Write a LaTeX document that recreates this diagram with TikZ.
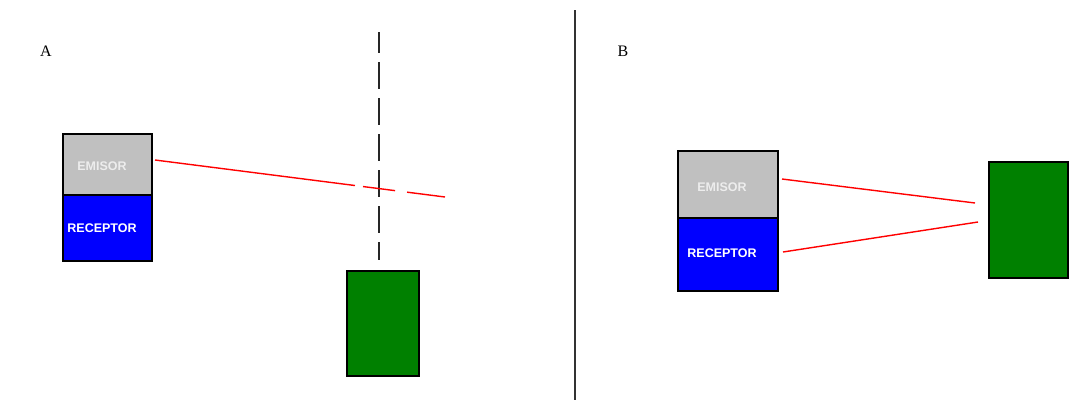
\documentclass[tikz,border=0pt]{standalone}
\usepackage{fontspec}
\setmainfont{Liberation Serif}
\newfontfamily\boxfont{Liberation Sans}
\definecolor{boxgray}{HTML}{C0C0C0}
\definecolor{boxblue}{HTML}{0000FF}
\definecolor{boxgreen}{HTML}{008000}
\definecolor{beamred}{HTML}{FF0000}
\definecolor{linegray}{HTML}{333333}
\begin{document}
\begin{tikzpicture}[x=1pt,y=-1pt,
  cell/.style={draw=black,line width=1.8pt,minimum width=#1,inner sep=0pt,anchor=north west},
  boxtext/.style={font=\boxfont\fontsize{12.5}{14}\selectfont\bfseries,inner sep=0pt},
  beam/.style={draw=beamred,line width=1.4pt},
  panellabel/.style={font=\fontsize{16}{18}\selectfont,inner sep=0pt}]
\useasboundingbox (0,0) rectangle (1092,400);
\fill[white] (0,0) rectangle (1092,400);
% divider
\coordinate (dtop) at (575,10);
\coordinate (dbot) at (575,400);
\draw[linegray,line width=1.5pt] (dtop) -- (dbot);
% labels
\node[panellabel] (labA) at (46,51) {A};
\node[panellabel] (labB) at (623,51) {B};
% ---- Panel A
\node[cell=89pt,fill=boxgray,minimum height=61pt] (emA) at (62,133) {};
\node[cell=89pt,fill=boxblue,minimum height=66pt] (reA) at (62,194) {};
\node[boxtext,text=black!7] (emAt) at (102,166) {EMISOR};
\node[boxtext,text=white] (reAt) at (102,228) {RECEPTOR};
\node[cell=72pt,fill=boxgreen,minimum height=105pt] (objA) at (346,270) {};
\coordinate (dashtop) at (379,32);
\coordinate (dashbot) at (379,260);
\draw[black!85,line width=1.8pt,dash pattern=on 27pt off 9pt,dash phase=6pt] (dashtop) -- (dashbot);
\coordinate (bAs) at (155,160);
\coordinate (bAe) at (445,197);
\draw[beam,dash pattern=on 201.6pt off 8.1pt on 32.3pt off 12.1pt on 60pt] (bAs) -- (bAe);
% ---- Panel B
\node[cell=100pt,fill=boxgray,minimum height=67pt] (emB) at (677,150) {};
\node[cell=100pt,fill=boxblue,minimum height=73pt] (reB) at (677,217) {};
\node[boxtext,text=black!7] (emBt) at (722,187) {EMISOR};
\node[boxtext,text=white] (reBt) at (722,253) {RECEPTOR};
\node[cell=79pt,fill=boxgreen,minimum height=116pt] (objB) at (988,161) {};
\coordinate (b1s) at (782,179);
\coordinate (b1e) at (975,203);
\coordinate (b2s) at (783,252);
\coordinate (b2e) at (978,222);
\draw[beam] (b1s) -- (b1e);
\draw[beam] (b2s) -- (b2e);
\end{tikzpicture}
\end{document}
